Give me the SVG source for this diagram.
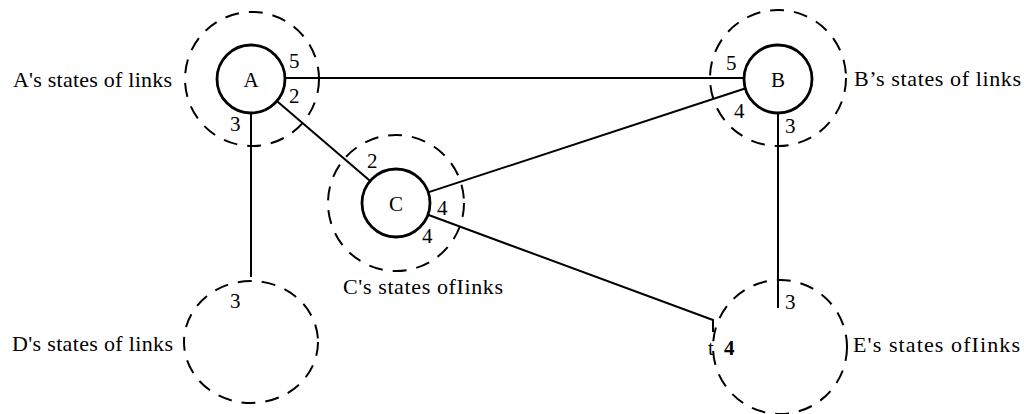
<svg xmlns="http://www.w3.org/2000/svg" width="1029" height="414" viewBox="0 0 1029 414">
<style>
.node{fill:#fff;stroke:#000;stroke-width:2.8}
.ring{fill:none;stroke:#000;stroke-width:2;stroke-dasharray:14 10}
.lbl{font-family:"Liberation Serif","Times New Roman",serif;font-size:22px;fill:#000}
.nl{font-family:"Liberation Serif","Times New Roman",serif;font-size:21px;fill:#000;text-anchor:middle}
.num{font-family:"Liberation Serif","Times New Roman",serif;font-size:21px;fill:#000}
.edge{stroke:#000;stroke-width:2;fill:none}
</style>
<rect width="1029" height="414" fill="#fff"/>
<g id="connectors">
<line class="edge" x1="285" y1="78" x2="744" y2="78"/>
<line class="edge" x1="276.8" y1="101.1" x2="370.2" y2="180.9"/>
<line class="edge" x1="428" y1="192.4" x2="745" y2="88.5"/>
<polyline class="edge" points="428,214.8 713,320 713,332"/>
<line class="edge" x1="251" y1="113" x2="251" y2="277"/>
<line class="edge" x1="778" y1="112" x2="778" y2="308"/>
</g>
<g id="A">
<circle class="ring" cx="252" cy="79" r="67"/>
<circle class="node" cx="251" cy="79" r="34"/>
<text class="nl" x="251" y="87">A</text>
<text class="num" x="289" y="68">5</text>
<text class="num" x="289" y="103">2</text>
<text class="num" x="230" y="131">3</text>
<text class="lbl" x="13" y="87" textLength="159" lengthAdjust="spacing">A's states of links</text>
</g>
<g id="B">
<circle class="ring" cx="778" cy="78" r="68"/>
<circle class="node" cx="778" cy="79" r="34"/>
<text class="nl" x="778" y="87">B</text>
<text class="num" x="726" y="70">5</text>
<text class="num" x="734" y="118">4</text>
<text class="num" x="785" y="133">3</text>
<text class="lbl" x="854" y="86" textLength="167" lengthAdjust="spacing">B’s states of links</text>
</g>
<g id="C">
<circle class="ring" cx="396" cy="203" r="68"/>
<circle class="node" cx="396" cy="203" r="34"/>
<text class="nl" x="396" y="211">C</text>
<text class="num" x="367" y="168">2</text>
<text class="num" x="437" y="215">4</text>
<text class="num" x="422" y="243">4</text>
<text class="lbl" x="343" y="294" textLength="160" lengthAdjust="spacing">C's states ofIinks</text>
</g>
<g id="D">
<ellipse class="ring" cx="251" cy="342" rx="67" ry="61"/>
<text class="num" x="230" y="308">3</text>
<text class="lbl" x="12" y="351" textLength="161" lengthAdjust="spacing">D's states of links</text>
</g>
<g id="E">
<circle class="ring" cx="780" cy="347" r="67"/>
<text class="num" x="785" y="309">3</text>
<text class="num" x="708" y="355">t</text>
<text class="num" x="724" y="355" font-weight="bold">4</text>
<text class="lbl" x="853" y="352" textLength="167" lengthAdjust="spacing">E's states ofIinks</text>
</g>
</svg>
